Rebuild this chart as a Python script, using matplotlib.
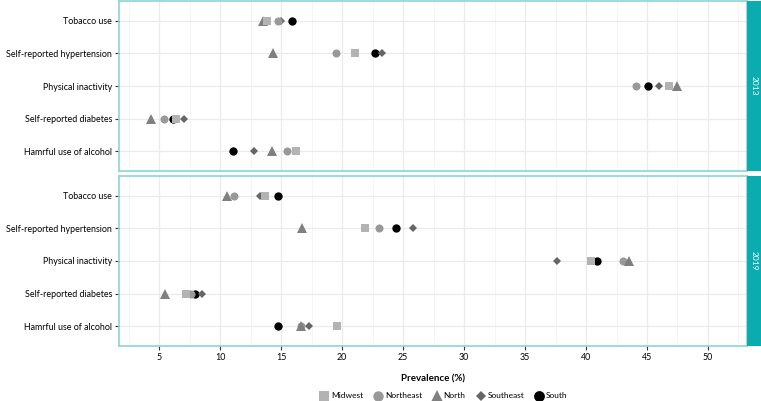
import numpy as np
import matplotlib.pyplot as plt
from matplotlib.lines import Line2D

plt.rcParams['font.family'] = ['Lato', 'DejaVu Sans']

# Categories (top to bottom)
indicators = ['Tobacco use', 'Self-reported hypertension', 'Physical inactivity',
              'Self-reported diabetes', 'Hamrful use of alcohol']
regions = ['Midwest', 'Northeast', 'North', 'Southeast', 'South']
years = ['2013', '2019']

# Prevalence (%) per region, in indicator order
vals_2013 = {
    'Midwest':   [13.85, 21.05, 46.8, 6.4, 16.2],
    'Northeast': [14.7, 19.5, 44.1, 5.35, 15.45],
    'North':     [13.5, 14.35, 47.45, 4.3, 14.25],
    'Southeast': [14.95, 23.3, 46.0, 7.0, 12.75],
    'South':     [15.9, 22.7, 45.1, 6.1, 11.05],
}
vals_2019 = {
    'Midwest':   [13.65, 21.85, 40.4, 7.2, 19.55],
    'Northeast': [11.1, 23.05, 43.0, 7.6, 16.6],
    'North':     [10.55, 16.7, 43.5, 5.5, 16.6],
    'Southeast': [13.3, 25.8, 37.6, 8.5, 17.3],
    'South':     [14.7, 24.4, 40.9, 7.9, 14.7],
}
data = {'2013': vals_2013, '2019': vals_2019}

styles = {
    'Midwest':   dict(marker='s', color='#b3b3b3', ms=5.4),
    'Northeast': dict(marker='o', color='#999999', ms=5.8),
    'North':     dict(marker='^', color='#808080', ms=7),
    'Southeast': dict(marker='D', color='#666666', ms=4),
    'South':     dict(marker='o', color='#000000', ms=6),
}
draw_order = ['South', 'Southeast', 'Northeast', 'North', 'Midwest']

W, H = 761, 401
fig = plt.figure(figsize=(W / 100, H / 100), dpi=100)

def box(l, t, r, b):
    return [l / W, 1 - b / H, (r - l) / W, (b - t) / H]

panels = [(1, 171), (176, 346)]
teal = '#0aacb0'
border = '#8ad6d6'
ypos = np.arange(len(indicators))[::-1]

for (top, bot), yr in zip(panels, years):
    ax = fig.add_axes(box(119, top, 747, bot))
    ax.set_xlim(1.7, 53.2)
    ax.set_ylim(-0.6, 4.6)
    ax.set_xticks([5, 10, 15, 20, 25, 30, 35, 40, 45, 50])
    ax.set_xticks(np.arange(2.5, 53, 5), minor=True)
    ax.set_yticks(ypos)
    ax.set_yticklabels(indicators, fontsize=6.4)
    ax.grid(True, which='major', color='#ebebeb', lw=0.9)
    ax.grid(True, which='minor', axis='x', color='#f4f4f4', lw=0.6)
    ax.set_axisbelow(True)
    for s in ax.spines.values():
        s.set_color(border)
        s.set_linewidth(1.2)
    ax.tick_params(axis='both', which='major', length=3, color='#333333', labelsize=6.4, pad=2)
    ax.tick_params(axis='x', which='minor', length=0)
    if yr == '2013':
        ax.tick_params(axis='x', labelbottom=False, length=0)
    for r in draw_order:
        st = styles[r]
        ax.plot(data[yr][r], ypos, linestyle='none', marker=st['marker'],
                color=st['color'], markersize=st['ms'], markeredgewidth=0, zorder=3)
    # strip on the right
    sax = fig.add_axes(box(747, top, 761, bot))
    sax.set_facecolor(teal)
    sax.set_xticks([])
    sax.set_yticks([])
    for s in sax.spines.values():
        s.set_visible(False)
    sax.text(0.5, 0.5, yr, rotation=-90, color='white', fontsize=6,
             ha='center', va='center', transform=sax.transAxes)
    if yr == '2019':
        ax.set_xlabel('Prevalence (%)', fontsize=7, fontweight='bold', labelpad=9)

handles = [Line2D([], [], linestyle='none', marker=styles[r]['marker'],
                  color=styles[r]['color'], markersize=styles[r]['ms'] * 1.3,
                  markeredgewidth=0) for r in regions]
fig.legend(handles, regions, loc='center', bbox_to_anchor=(443 / W, 1 - 396 / H),
           ncol=5, frameon=False, fontsize=6, handletextpad=0.1,
           columnspacing=1.1, handlelength=1.4)

fig.savefig('out.png', dpi=100)
